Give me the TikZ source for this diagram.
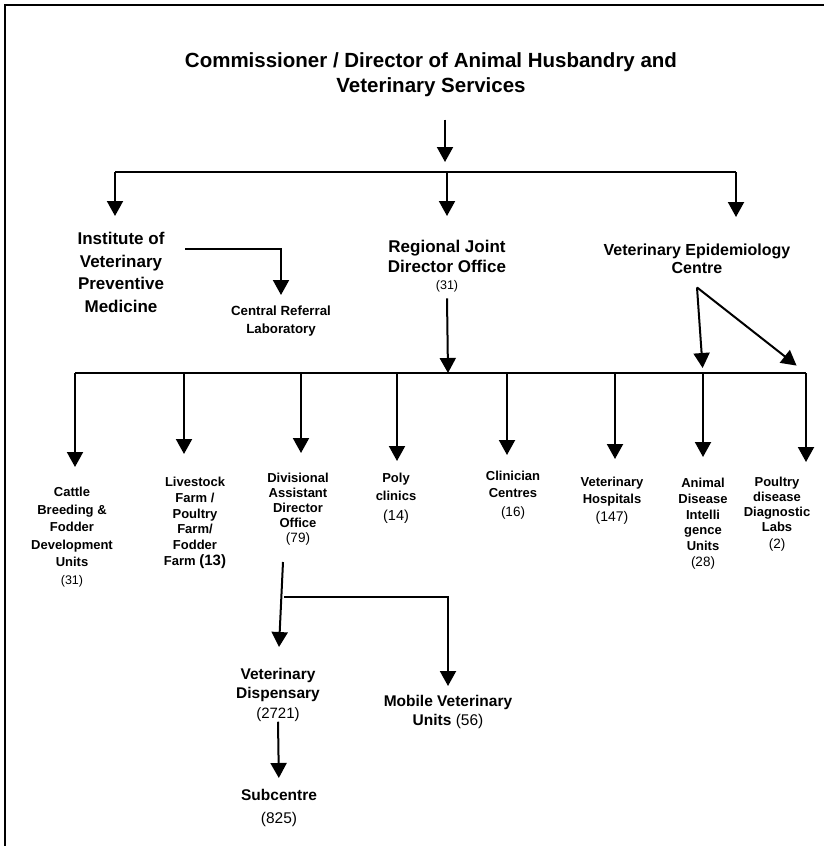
\documentclass[tikz,border=0pt]{standalone}
\usepackage{fontspec}
\setmainfont{Liberation Sans}
\usetikzlibrary{arrows.meta,% filled triangle tips
calc}
\newcommand{\cnt}[2]{{\fontsize{#1}{#1}\selectfont\mdseries(#2)}}
\tikzset{every node/.style={inner sep=0pt, anchor=north, align=center},
  ttl/.style={font=\fontsize{20.5}{25}\selectfont\bfseries},
  head/.style={font=\fontsize{17}{#1}\selectfont\bfseries},
  unit/.style={font=\fontsize{13}{#1}\selectfont\bfseries},
  low/.style={font=\fontsize{15.5}{#1}\selectfont\bfseries},
  bar/.style={line width=2pt},
  arr/.style={line width=2pt, -{Triangle[length=15pt,width=16pt]}}}

\begin{document}
\begin{tikzpicture}[x=1pt,y=-1pt]
  \useasboundingbox (0,0) rectangle (824,846);
  \draw[line width=2pt] (5,846) -- (5,5) -- (824,5);
  % top
  \node[ttl] (title) at (431,52) {Commissioner / Director of Animal Husbandry and\\Veterinary Services};
  \node[head=22.7] (inst) at (121,232) {Institute of\\Veterinary\\Preventive\\Medicine};
  \node[unit=18,font=\fontsize{13.3}{18}\selectfont\bfseries] (crl) at (281,306) {Central Referral\\Laboratory};
  \node[head=20] (rjdo) at (447,240) {Regional Joint\\Director Office\\[-3pt]\cnt{12.5}{31}};
  \node[head=17.3,font=\fontsize{16}{17.3}\selectfont\bfseries] (vec) at (697,244) {Veterinary Epidemiology\\Centre};
  % units
  \node[unit=17.5] (cattle) at (72,487) {Cattle\\Breeding \&\\Fodder\\Development\\Units\\\cnt{12.5}{31}};
  \node[unit=15.7] (livestock) at (195,477) {Livestock\\Farm /\\Poultry\\Farm/\\Fodder\\Farm {\fontsize{15}{15}\selectfont(13)}};
  \node[unit=15] (dado) at (298,473) {Divisional\\Assistant\\Director\\Office\\\cnt{13.5}{79}};
  \node[unit=18] (poly) at (396,473) {Poly\\clinics\\[2pt]\cnt{14.5}{14}};
  \node[unit=17] (clin) at (513,471) {Clinician\\Centres\\[2pt]\cnt{13.5}{16}};
  \node[unit=16.5] (hosp) at (612,477) {Veterinary\\Hospitals\\[2pt]\cnt{14}{147}};
  \node[unit=15.7] (adiu) at (703,478) {Animal\\Disease\\Intelli\\gence\\Units\\\cnt{13.5}{28}};
  \node[unit=15] (pddl) at (777,477) {Poultry\\disease\\Diagnostic\\Labs\\[2pt]\cnt{13.5}{2}};
  \node[low=19.5] (disp) at (278,668) {Veterinary\\Dispensary\\\cnt{15}{2721}};
  \node[low=19] (mvu) at (448,695) {Mobile Veterinary\\Units \cnt{15.5}{56}};
  \node[low=23] (sub) at (279,789) {Subcentre\\\cnt{15.5}{825}};

  \coordinate (top) at (445,172);
  \coordinate (b1w) at (115,172);
  \coordinate (b1m) at (447,172);
  \coordinate (b1e) at (736,172);
  \draw[arr, shorten <=23pt, shorten >=10pt] (title.south -| top) -- (top);
  \draw[bar] (b1w) -- (b1e);
  \draw[arr, shorten >=16pt] (b1w) -- (b1w |- inst.north);
  \draw[arr, shorten >=24pt] (b1m) -- (b1m |- rjdo.north);
  \draw[arr, shorten >=27pt] (b1e) -- (b1e |- vec.north);
  \coordinate (ivpm) at (185,249);
  \draw[arr, shorten >=11pt] (ivpm) -| (crl.north);

  \coordinate (b2w) at (75,373);
  \coordinate (b2m) at (448,373);
  \coordinate (b2e) at (806,373);
  \draw[bar] (b2w) -- (b2e);
  \draw[arr] ([yshift=-6pt]rjdo.south) -- (b2m);
  \foreach \x/\n/\g in {75/cattle/20, 184/livestock/23, 301/dado/20, 397/poly/12,
                        507/clin/16, 615/hosp/18, 703/adiu/21, 806/pddl/15}
  { \coordinate (d\n) at (\x,373);
    \draw[arr, shorten >=\g pt] (d\n) -- (d\n |- \n.north); }
  \coordinate (vecout) at ([yshift=-14pt]vec.south);
  \draw[arr, shorten >=5pt] (vecout) -- (dadiu);
  \draw[arr, shorten >=12pt] (vecout) -- (dpddl);

  % divisional office
  \coordinate (dadoout) at (283,562);
  \coordinate (dadobr) at (284,597);
  \draw[arr, shorten >=21pt] (dadoout) -- (disp.north);
  \draw[arr, shorten >=9pt] (dadobr) -| (mvu.north);
  \draw[arr, shorten >=11pt] (disp.south) -- (sub.north);
\end{tikzpicture}
\end{document}
